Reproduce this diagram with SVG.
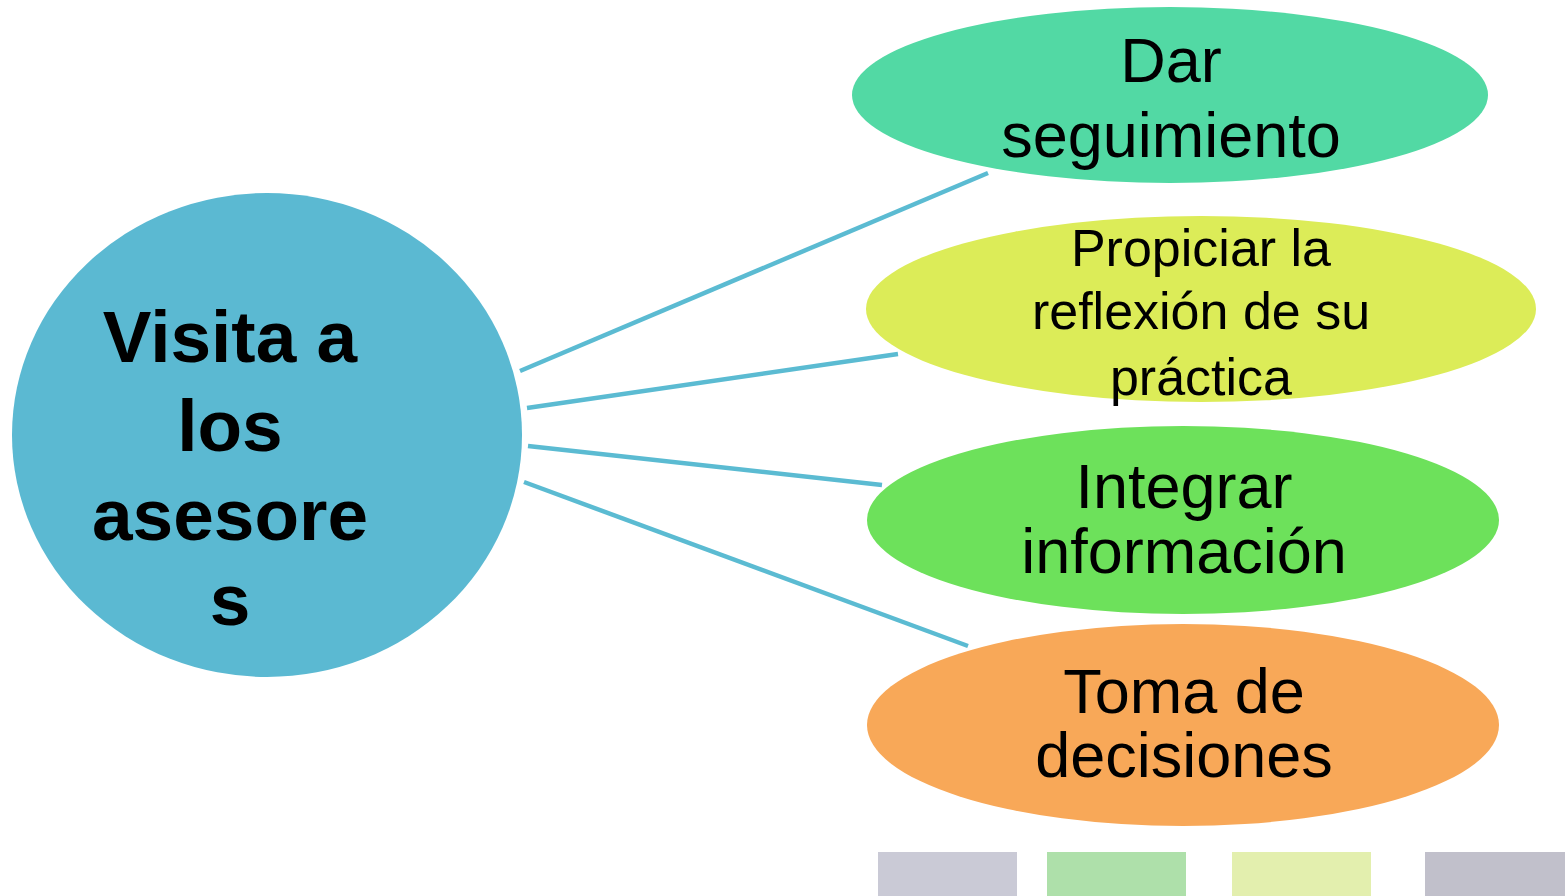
<svg xmlns="http://www.w3.org/2000/svg" width="1565" height="896" viewBox="0 0 1565 896">
<style>
.t{font-family:"Liberation Sans",Arial,sans-serif;fill:#000;text-anchor:middle}
.b{font-weight:bold;font-size:73px}
.c{stroke:#5BBBD2;stroke-width:4.5;fill:none}
</style>
<rect width="1565" height="896" fill="#fff"/>
<g id="connectors">
<line class="c" x1="520" y1="371" x2="988" y2="173"/>
<line class="c" x1="527" y1="408" x2="898" y2="354"/>
<line class="c" x1="528" y1="446" x2="882" y2="485"/>
<line class="c" x1="524" y1="482" x2="968" y2="646"/>
</g>
<g id="center">
<ellipse cx="267" cy="435" rx="255" ry="242" fill="#5BB9D2"/>
<text class="t b" x="230"><tspan x="230" y="362">Visita a</tspan><tspan x="230" y="451">los</tspan><tspan x="230" y="540">asesore</tspan><tspan x="230" y="625">s</tspan></text>
</g>
<g id="n1">
<ellipse cx="1170" cy="95" rx="318" ry="88" fill="#52D9A4"/>
<text class="t" font-size="63"><tspan x="1171" y="82">Dar</tspan><tspan x="1171" y="157">seguimiento</tspan></text>
</g>
<g id="n2">
<ellipse cx="1201" cy="309" rx="335" ry="93" fill="#DCEC58"/>
<text class="t" font-size="52"><tspan x="1201" y="266">Propiciar la</tspan><tspan x="1201" y="329">reflexión de su</tspan><tspan x="1201" y="395">práctica</tspan></text>
</g>
<g id="n3">
<ellipse cx="1183" cy="520" rx="316" ry="94" fill="#6DE15B"/>
<text class="t" font-size="63"><tspan x="1184" y="508">Integrar</tspan><tspan x="1184" y="573">información</tspan></text>
</g>
<g id="n4">
<ellipse cx="1183" cy="725" rx="316" ry="101" fill="#F8A858"/>
<text class="t" font-size="63"><tspan x="1184" y="713">Toma de</tspan><tspan x="1184" y="777">decisiones</tspan></text>
</g>
<g id="bars">
<rect x="878" y="852" width="139" height="44" fill="#CACAD6"/>
<rect x="1047" y="852" width="139" height="44" fill="#AEE0AA"/>
<rect x="1232" y="852" width="139" height="44" fill="#E3EFAE"/>
<rect x="1425" y="852" width="140" height="44" fill="#C1C0CB"/>
</g>
</svg>
